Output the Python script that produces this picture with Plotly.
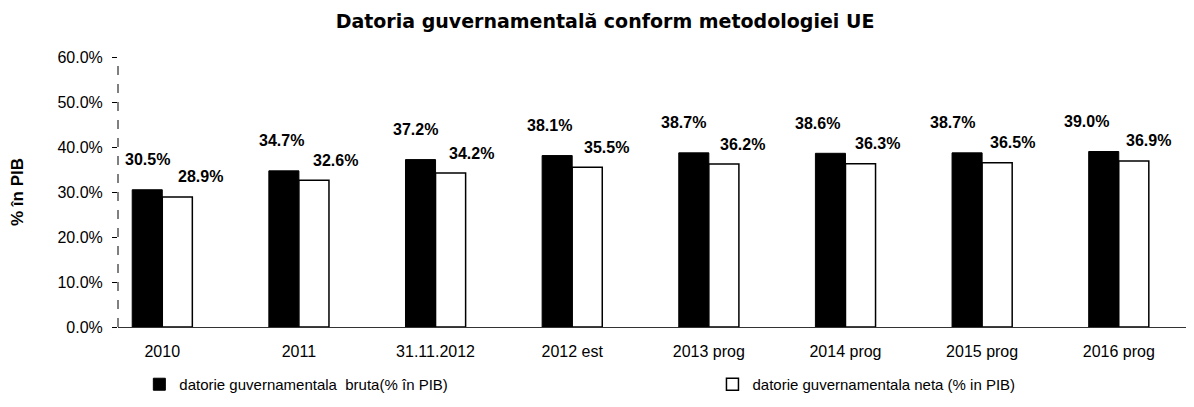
import plotly.graph_objects as go

categories = ["2010", "2011", "31.11.2012", "2012 est", "2013 prog", "2014 prog", "2015 prog", "2016 prog"]
bruta = [30.5, 34.7, 37.2, 38.1, 38.7, 38.6, 38.7, 39.0]
neta = [28.9, 32.6, 34.2, 35.5, 36.2, 36.3, 36.5, 36.9]
name_bruta = "datorie guvernamentala  bruta(% în PIB)"
name_neta = "datorie guvernamentala neta (% in PIB)"
title = "Datoria guvernamentală conform metodologiei UE"
y_ticks = [0, 10, 20, 30, 40, 50, 60]

FONT = "Liberation Sans, Arial, sans-serif"

fig = go.Figure()
fig.add_trace(go.Bar(x=categories, y=bruta, name=name_bruta, legend="legend",
                     marker=dict(color="black", line=dict(color="black", width=1))))
fig.add_trace(go.Bar(x=categories, y=neta, name=name_neta, legend="legend2",
                     marker=dict(color="white", line=dict(color="black", width=1.5))))

ann = []
for i, (b, n) in enumerate(zip(bruta, neta)):
    ann.append(dict(x=i, y=b, text=f"{b:.1f}%", showarrow=False, xshift=-15 - 2.5 * i, yshift=30,
                    font=dict(family=FONT, size=16, color="black", weight="bold")))
    ann.append(dict(x=i, y=n, text=f"{n:.1f}%", showarrow=False, xshift=38 - 1.2 * i, yshift=20,
                    font=dict(family=FONT, size=16, color="black", weight="bold")))

leg_common = dict(orientation="h", xref="container", yref="container", yanchor="middle",
                  xanchor="left", font=dict(family=FONT, size=15, color="black"),
                  itemwidth=30, bgcolor="rgba(0,0,0,0)")

fig.update_layout(
    width=1194, height=407,
    margin=dict(l=110, r=10, t=49, b=88, autoexpand=False),
    paper_bgcolor="white", plot_bgcolor="white",
    barmode="group", bargap=0.56, bargroupgap=0,
    title=dict(text=f"<b>{title}</b>", x=0.5, xanchor="center", y=0.966, yanchor="middle",
               font=dict(family="DejaVu Sans, sans-serif", size=19, color="black")),
    font=dict(family=FONT, size=15, color="black"),
    showlegend=True,
    legend=dict(x=0.11, y=0.075, **leg_common),
    legend2=dict(x=0.59, y=0.075, **leg_common),
    annotations=ann,
    shapes=[dict(type="line", xref="paper", yref="y", x0=0, x1=0, y0=0, y1=60,
                 line=dict(color="black", width=1, dash="dash"))],
)
fig.update_xaxes(type="category", range=[-0.324, 7.536], showline=True, linecolor="#333333",
                 linewidth=1, ticks="", ticklabelstandoff=10, showgrid=False,
                 tickfont=dict(family=FONT, size=16, color="black"))
fig.update_yaxes(range=[0, 60], tickvals=y_ticks, ticktext=[f"{v:.1f}%" for v in y_ticks],
                 showline=False, ticks="outside", ticklen=5, tickcolor="black", showgrid=False,
                 zeroline=False, ticklabelstandoff=6, tickfont=dict(family=FONT, size=16, color="black"),
                 title=dict(text="<b>% în PIB</b>", standoff=30,
                            font=dict(family=FONT, size=17, color="black")))

fig.write_html("out.html")
